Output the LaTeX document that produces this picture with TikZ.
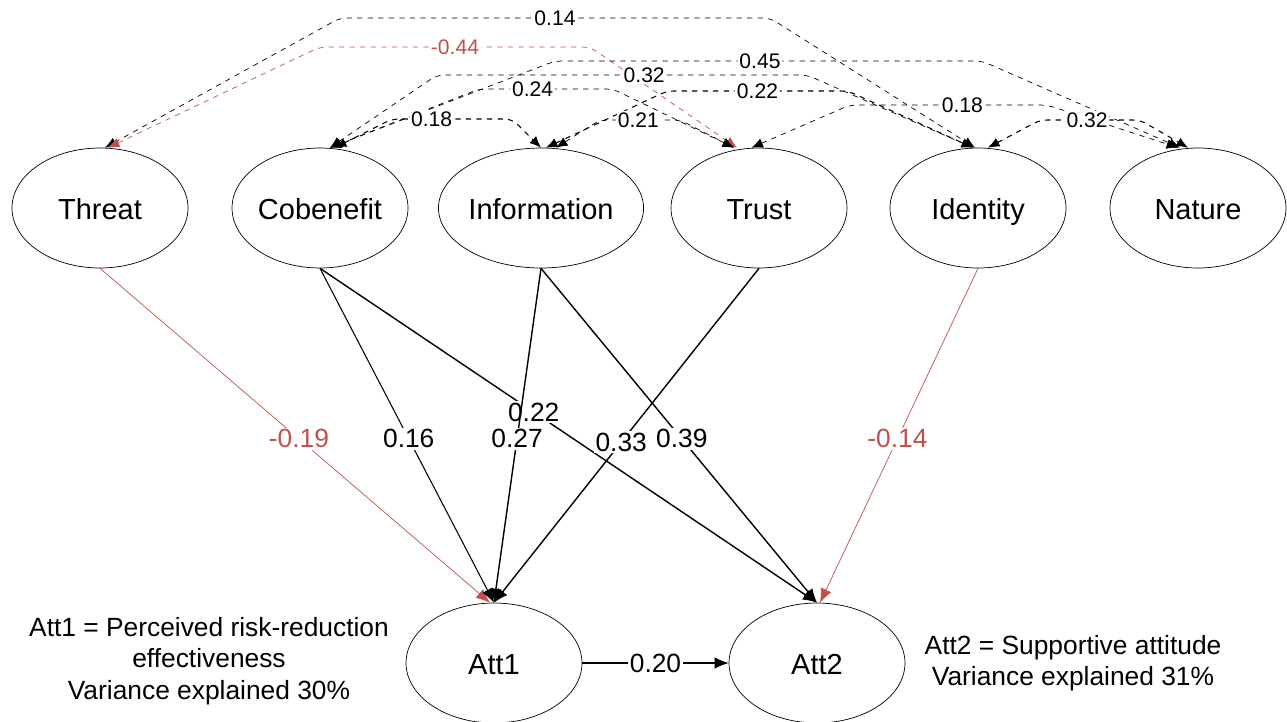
\documentclass[tikz,border=0pt]{standalone}
\usepackage{fontspec}
\setmainfont{Liberation Sans}
\usetikzlibrary{shapes.geometric,arrows.meta}
\definecolor{pathred}{RGB}{192,80,77}
\tikzset{
  latent/.style={draw, ellipse, minimum width=3.52cm, minimum height=2.4cm, inner sep=0pt, text height=14pt, text depth=1pt, font=\fontsize{16.5}{19}\selectfont},
  effect/.style={thick, -{Latex[length=8pt,width=6.5pt]}},
  corr/.style={dashed, thin, rounded corners=4pt, {Latex[length=6.5pt,width=5.5pt]}-{Latex[length=6.5pt,width=5.5pt]}},
  corrlabel/.style={fill=white, inner sep=1pt, font=\fontsize{12}{14}\selectfont},
  efflabel/.style={fill=white, inner sep=1pt, font=\fontsize{15}{17}\selectfont},
  note/.style={align=center, font=\fontsize{15}{18}\selectfont}
}
\begin{document}
\begin{tikzpicture}[x=0.02cm, y=-0.02cm]
            \useasboundingbox (0,0) rectangle (1287,721);
            % latent variables
            \node[latent] (threat) at (100,208) {Threat};
            \node[latent] (cobenefit) at (320,208) {Cobenefit};
            \node[latent] (information) at (541,208) {Information};
            \node[latent] (trust) at (759,208) {Trust};
            \node[latent] (identity) at (978,208) {Identity};
            \node[latent] (nature) at (1198,208) {Nature};
            \node[latent] (att1) at (494,663) {Att1};
            \node[latent] (att2) at (817,663) {Att2};
            % correlations
            \draw[corr] ([xshift=0.1cm]threat.north) -- (340,18) -- node[corrlabel]{0.14} (770,18) -- ([xshift=-0.06cm]identity.north);
            \draw[corr, pathred] ([xshift=0.16cm]threat.north) -- (320,47) -- node[corrlabel, text=pathred]{-0.44} (590,47) -- ([xshift=-0.44cm]trust.north);
            \draw[corr] ([xshift=0.2cm]cobenefit.north) -- (555,61) -- node[corrlabel, pos=0.48]{0.45} (982,61) -- ([xshift=-0.36cm]nature.north);
            \draw[corr] ([xshift=0.2cm]cobenefit.north) -- (437,75) -- node[corrlabel, pos=0.56]{0.32} (807,75) -- ([xshift=-0.1cm]identity.north);
            \draw[corr] ([xshift=0.2cm]cobenefit.north) -- (479,89) -- node[corrlabel, pos=0.4]{0.24} (613,89) -- ([xshift=-0.5cm]trust.north);
            \draw[corr, semithick] ([xshift=0.1cm]information.north) -- (667,91) -- node[corrlabel]{0.22} (848,91) -- ([xshift=-0.1cm]identity.north);
            \draw[corr, semithick] ([xshift=0.3cm]cobenefit.north) -- (392,119) -- node[corrlabel, pos=0.33]{0.18} (512,119) -- (information.north);
            \draw[corr] ([xshift=0.3cm]information.north) -- (600,120) -- node[corrlabel, pos=0.48]{0.21} (680,120) -- ([xshift=-0.5cm]trust.north);
            \draw[corr] ([xshift=-0.15cm]trust.north) -- (850,105) -- node[corrlabel, pos=0.57]{0.18} (1047,105) -- ([xshift=-0.4cm]nature.north);
            \draw[corr, semithick] ([xshift=0.2cm]identity.north) -- (1040,120) -- node[corrlabel, pos=0.47]{0.32} (1140,120) -- ([xshift=-0.2cm]nature.north);
            % paths
            \draw[effect, pathred, thin] (threat.south) -- node[efflabel, text=pathred, pos=0.51]{-0.19} ([xshift=-0.08cm]att1.north);
            \draw[effect, semithick] (cobenefit.south) -- node[efflabel, pos=0.51]{0.16} (att1.north);
            \draw[effect] (cobenefit.south) -- node[efflabel, pos=0.43]{0.22} (att2.north);
            \draw[effect] (information.south) -- node[efflabel, pos=0.51]{0.27} (att1.north);
            \draw[effect] (information.south) -- node[efflabel, pos=0.51]{0.39} (att2.north);
            \draw[effect] (trust.south) -- node[efflabel, pos=0.52]{0.33} (att1.north);
            \draw[effect, pathred, thin] (identity.south) -- node[efflabel, text=pathred, pos=0.51]{-0.14} ([xshift=0.06cm]att2.north);
            \draw[effect, semithick] (att1) -- node[efflabel]{0.20} (att2);
            % notes
            \node[note] (def1) at (209,661) {Att1 = Perceived risk-reduction\\effectiveness\\Variance explained 30\%};
            \node[note] (def2) at (1073,663) {Att2 = Supportive attitude\\Variance explained 31\%};
        \end{tikzpicture}
\end{document}
